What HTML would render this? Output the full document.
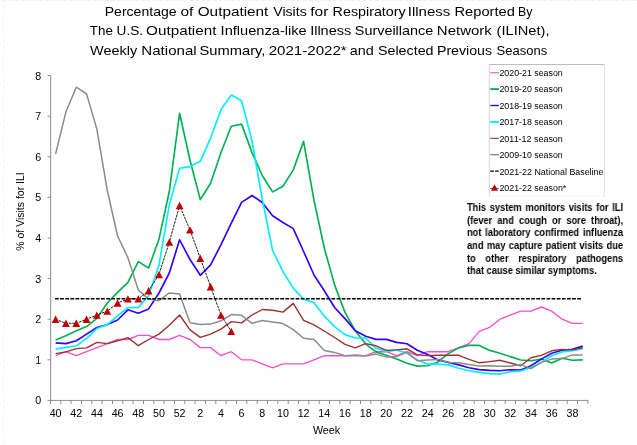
<!DOCTYPE html>
<html><head><meta charset="utf-8"><title>ILINet</title>
<style>
html,body{margin:0;padding:0;background:#fff;}
body{width:637px;height:445px;position:relative;overflow:hidden;font-family:"Liberation Sans",sans-serif;}
.nl{will-change:transform;position:absolute;left:466.6px;width:168.3px;height:12px;line-height:12px;font-size:10.0px;font-weight:bold;color:#000;white-space:nowrap;text-align:justify;text-align-last:justify;transform:scaleX(0.927);transform-origin:0 0;font-family:"Liberation Sans",sans-serif;}
.nl.last{text-align:left;text-align-last:left;}
</style></head><body>
<svg width="637" height="445" viewBox="0 0 637 445" style="position:absolute;left:0;top:0;will-change:transform">
<rect width="637" height="445" fill="#fff"/>
<line x1="3.5" y1="0" x2="3.5" y2="445" stroke="#f1f0f6" stroke-width="1" stroke-dasharray="3,2"/>
<line x1="3" y1="0.5" x2="637" y2="0.5" stroke="#f0f0f0" stroke-width="1" stroke-dasharray="4,2"/>
<g style="font-family:'Liberation Sans',sans-serif">
<text transform="translate(104.74,15.5) scale(1.0644,1)" font-size="13.2" fill="#000">Percentage</text>
<text transform="translate(180.51,15.5) scale(1.1714,1)" font-size="13.2" fill="#000">of</text>
<text transform="translate(197.72,15.5) scale(1.1602,1)" font-size="13.2" fill="#000">Outpatient</text>
<text transform="translate(273.2,15.5) scale(1.0732,1)" font-size="13.2" fill="#000">Visits</text>
<text transform="translate(310.31,15.5) scale(1.1733,1)" font-size="13.2" fill="#000">for</text>
<text transform="translate(332.62,15.5) scale(1.0838,1)" font-size="13.2" fill="#000">Respiratory</text>
<text transform="translate(407.78,15.5) scale(1.1385,1)" font-size="13.2" fill="#000">Illness</text>
<text transform="translate(454.49,15.5) scale(1.1124,1)" font-size="13.2" fill="#000">Reported</text>
<text transform="translate(518.11,15.5) scale(0.9368,1)" font-size="13.2" fill="#000">By</text>
<text transform="translate(89.85,35.2) scale(1.0136,1)" font-size="13.2" fill="#000">The</text>
<text transform="translate(116.62,35.2) scale(1.034,1)" font-size="13.2" fill="#000">U.S.</text>
<text transform="translate(146.12,35.2) scale(1.1552,1)" font-size="13.2" fill="#000">Outpatient</text>
<text transform="translate(220.62,35.2) scale(1.1079,1)" font-size="13.2" fill="#000">Influenza-like</text>
<text transform="translate(310.13,35.2) scale(1.0993,1)" font-size="13.2" fill="#000">Illness</text>
<text transform="translate(354.85,35.2) scale(1.0912,1)" font-size="13.2" fill="#000">Surveillance</text>
<text transform="translate(436.86,35.2) scale(1.1365,1)" font-size="13.2" fill="#000">Network</text>
<text transform="translate(496.57,35.2) scale(1.1104,1)" font-size="13.2" fill="#000">(ILINet),</text>
<text transform="translate(90.1,54.6) scale(1.0953,1)" font-size="13.2" fill="#000">Weekly</text>
<text transform="translate(141.36,54.6) scale(1.1419,1)" font-size="13.2" fill="#000">National</text>
<text transform="translate(199.54,54.6) scale(1.1148,1)" font-size="13.2" fill="#000">Summary,</text>
<text transform="translate(268.64,54.6) scale(1.145,1)" font-size="13.2" fill="#000">2021-2022*</text>
<text transform="translate(349.76,54.6) scale(1.0892,1)" font-size="13.2" fill="#000">and</text>
<text transform="translate(377.96,54.6) scale(1.082,1)" font-size="13.2" fill="#000">Selected</text>
<text transform="translate(436.93,54.6) scale(1.0734,1)" font-size="13.2" fill="#000">Previous</text>
<text transform="translate(496.51,54.6) scale(0.9881,1)" font-size="13.2" fill="#000">Seasons</text>
<line x1="50.7" y1="75.4" x2="50.7" y2="400.9" stroke="#8c8c94" stroke-width="1"/>
<line x1="50.2" y1="400.4" x2="588" y2="400.4" stroke="#8c8c94" stroke-width="1"/>
<line x1="47.5" y1="400.4" x2="50.7" y2="400.4" stroke="#8c8c94" stroke-width="1"/>
<text x="41.2" y="404.3" font-size="10.7" text-anchor="end" font-weight="normal" fill="#000" >0</text>
<line x1="47.5" y1="359.8" x2="50.7" y2="359.8" stroke="#8c8c94" stroke-width="1"/>
<text x="41.2" y="363.7" font-size="10.7" text-anchor="end" font-weight="normal" fill="#000" >1</text>
<line x1="47.5" y1="319.2" x2="50.7" y2="319.2" stroke="#8c8c94" stroke-width="1"/>
<text x="41.2" y="323.1" font-size="10.7" text-anchor="end" font-weight="normal" fill="#000" >2</text>
<line x1="47.5" y1="278.6" x2="50.7" y2="278.6" stroke="#8c8c94" stroke-width="1"/>
<text x="41.2" y="282.5" font-size="10.7" text-anchor="end" font-weight="normal" fill="#000" >3</text>
<line x1="47.5" y1="238.0" x2="50.7" y2="238.0" stroke="#8c8c94" stroke-width="1"/>
<text x="41.2" y="241.9" font-size="10.7" text-anchor="end" font-weight="normal" fill="#000" >4</text>
<line x1="47.5" y1="197.4" x2="50.7" y2="197.4" stroke="#8c8c94" stroke-width="1"/>
<text x="41.2" y="201.3" font-size="10.7" text-anchor="end" font-weight="normal" fill="#000" >5</text>
<line x1="47.5" y1="156.8" x2="50.7" y2="156.8" stroke="#8c8c94" stroke-width="1"/>
<text x="41.2" y="160.7" font-size="10.7" text-anchor="end" font-weight="normal" fill="#000" >6</text>
<line x1="47.5" y1="116.2" x2="50.7" y2="116.2" stroke="#8c8c94" stroke-width="1"/>
<text x="41.2" y="120.1" font-size="10.7" text-anchor="end" font-weight="normal" fill="#000" >7</text>
<line x1="47.5" y1="75.6" x2="50.7" y2="75.6" stroke="#8c8c94" stroke-width="1"/>
<text x="41.2" y="79.5" font-size="10.7" text-anchor="end" font-weight="normal" fill="#000" >8</text>
<line x1="50.5" y1="400.4" x2="50.5" y2="404" stroke="#8c8c94" stroke-width="1"/>
<line x1="60.8" y1="400.4" x2="60.8" y2="404" stroke="#8c8c94" stroke-width="1"/>
<line x1="71.1" y1="400.4" x2="71.1" y2="404" stroke="#8c8c94" stroke-width="1"/>
<line x1="81.5" y1="400.4" x2="81.5" y2="404" stroke="#8c8c94" stroke-width="1"/>
<line x1="91.8" y1="400.4" x2="91.8" y2="404" stroke="#8c8c94" stroke-width="1"/>
<line x1="102.1" y1="400.4" x2="102.1" y2="404" stroke="#8c8c94" stroke-width="1"/>
<line x1="112.5" y1="400.4" x2="112.5" y2="404" stroke="#8c8c94" stroke-width="1"/>
<line x1="122.8" y1="400.4" x2="122.8" y2="404" stroke="#8c8c94" stroke-width="1"/>
<line x1="133.1" y1="400.4" x2="133.1" y2="404" stroke="#8c8c94" stroke-width="1"/>
<line x1="143.5" y1="400.4" x2="143.5" y2="404" stroke="#8c8c94" stroke-width="1"/>
<line x1="153.8" y1="400.4" x2="153.8" y2="404" stroke="#8c8c94" stroke-width="1"/>
<line x1="164.1" y1="400.4" x2="164.1" y2="404" stroke="#8c8c94" stroke-width="1"/>
<line x1="174.5" y1="400.4" x2="174.5" y2="404" stroke="#8c8c94" stroke-width="1"/>
<line x1="184.8" y1="400.4" x2="184.8" y2="404" stroke="#8c8c94" stroke-width="1"/>
<line x1="195.1" y1="400.4" x2="195.1" y2="404" stroke="#8c8c94" stroke-width="1"/>
<line x1="205.5" y1="400.4" x2="205.5" y2="404" stroke="#8c8c94" stroke-width="1"/>
<line x1="215.8" y1="400.4" x2="215.8" y2="404" stroke="#8c8c94" stroke-width="1"/>
<line x1="226.1" y1="400.4" x2="226.1" y2="404" stroke="#8c8c94" stroke-width="1"/>
<line x1="236.5" y1="400.4" x2="236.5" y2="404" stroke="#8c8c94" stroke-width="1"/>
<line x1="246.8" y1="400.4" x2="246.8" y2="404" stroke="#8c8c94" stroke-width="1"/>
<line x1="257.2" y1="400.4" x2="257.2" y2="404" stroke="#8c8c94" stroke-width="1"/>
<line x1="267.5" y1="400.4" x2="267.5" y2="404" stroke="#8c8c94" stroke-width="1"/>
<line x1="277.8" y1="400.4" x2="277.8" y2="404" stroke="#8c8c94" stroke-width="1"/>
<line x1="288.2" y1="400.4" x2="288.2" y2="404" stroke="#8c8c94" stroke-width="1"/>
<line x1="298.5" y1="400.4" x2="298.5" y2="404" stroke="#8c8c94" stroke-width="1"/>
<line x1="308.8" y1="400.4" x2="308.8" y2="404" stroke="#8c8c94" stroke-width="1"/>
<line x1="319.2" y1="400.4" x2="319.2" y2="404" stroke="#8c8c94" stroke-width="1"/>
<line x1="329.5" y1="400.4" x2="329.5" y2="404" stroke="#8c8c94" stroke-width="1"/>
<line x1="339.8" y1="400.4" x2="339.8" y2="404" stroke="#8c8c94" stroke-width="1"/>
<line x1="350.2" y1="400.4" x2="350.2" y2="404" stroke="#8c8c94" stroke-width="1"/>
<line x1="360.5" y1="400.4" x2="360.5" y2="404" stroke="#8c8c94" stroke-width="1"/>
<line x1="370.8" y1="400.4" x2="370.8" y2="404" stroke="#8c8c94" stroke-width="1"/>
<line x1="381.2" y1="400.4" x2="381.2" y2="404" stroke="#8c8c94" stroke-width="1"/>
<line x1="391.5" y1="400.4" x2="391.5" y2="404" stroke="#8c8c94" stroke-width="1"/>
<line x1="401.8" y1="400.4" x2="401.8" y2="404" stroke="#8c8c94" stroke-width="1"/>
<line x1="412.2" y1="400.4" x2="412.2" y2="404" stroke="#8c8c94" stroke-width="1"/>
<line x1="422.5" y1="400.4" x2="422.5" y2="404" stroke="#8c8c94" stroke-width="1"/>
<line x1="432.8" y1="400.4" x2="432.8" y2="404" stroke="#8c8c94" stroke-width="1"/>
<line x1="443.2" y1="400.4" x2="443.2" y2="404" stroke="#8c8c94" stroke-width="1"/>
<line x1="453.5" y1="400.4" x2="453.5" y2="404" stroke="#8c8c94" stroke-width="1"/>
<line x1="463.9" y1="400.4" x2="463.9" y2="404" stroke="#8c8c94" stroke-width="1"/>
<line x1="474.2" y1="400.4" x2="474.2" y2="404" stroke="#8c8c94" stroke-width="1"/>
<line x1="484.5" y1="400.4" x2="484.5" y2="404" stroke="#8c8c94" stroke-width="1"/>
<line x1="494.9" y1="400.4" x2="494.9" y2="404" stroke="#8c8c94" stroke-width="1"/>
<line x1="505.2" y1="400.4" x2="505.2" y2="404" stroke="#8c8c94" stroke-width="1"/>
<line x1="515.5" y1="400.4" x2="515.5" y2="404" stroke="#8c8c94" stroke-width="1"/>
<line x1="525.9" y1="400.4" x2="525.9" y2="404" stroke="#8c8c94" stroke-width="1"/>
<line x1="536.2" y1="400.4" x2="536.2" y2="404" stroke="#8c8c94" stroke-width="1"/>
<line x1="546.5" y1="400.4" x2="546.5" y2="404" stroke="#8c8c94" stroke-width="1"/>
<line x1="556.9" y1="400.4" x2="556.9" y2="404" stroke="#8c8c94" stroke-width="1"/>
<line x1="567.2" y1="400.4" x2="567.2" y2="404" stroke="#8c8c94" stroke-width="1"/>
<line x1="577.5" y1="400.4" x2="577.5" y2="404" stroke="#8c8c94" stroke-width="1"/>
<line x1="587.9" y1="400.4" x2="587.9" y2="404" stroke="#8c8c94" stroke-width="1"/>
<text x="55.6" y="416.9" font-size="10.7" text-anchor="middle" font-weight="normal" fill="#000" >40</text>
<text x="76.3" y="416.9" font-size="10.7" text-anchor="middle" font-weight="normal" fill="#000" >42</text>
<text x="96.9" y="416.9" font-size="10.7" text-anchor="middle" font-weight="normal" fill="#000" >44</text>
<text x="117.6" y="416.9" font-size="10.7" text-anchor="middle" font-weight="normal" fill="#000" >46</text>
<text x="138.3" y="416.9" font-size="10.7" text-anchor="middle" font-weight="normal" fill="#000" >48</text>
<text x="159.0" y="416.9" font-size="10.7" text-anchor="middle" font-weight="normal" fill="#000" >50</text>
<text x="179.6" y="416.9" font-size="10.7" text-anchor="middle" font-weight="normal" fill="#000" >52</text>
<text x="200.3" y="416.9" font-size="10.7" text-anchor="middle" font-weight="normal" fill="#000" >2</text>
<text x="221.0" y="416.9" font-size="10.7" text-anchor="middle" font-weight="normal" fill="#000" >4</text>
<text x="241.6" y="416.9" font-size="10.7" text-anchor="middle" font-weight="normal" fill="#000" >6</text>
<text x="262.3" y="416.9" font-size="10.7" text-anchor="middle" font-weight="normal" fill="#000" >8</text>
<text x="283.0" y="416.9" font-size="10.7" text-anchor="middle" font-weight="normal" fill="#000" >10</text>
<text x="303.6" y="416.9" font-size="10.7" text-anchor="middle" font-weight="normal" fill="#000" >12</text>
<text x="324.3" y="416.9" font-size="10.7" text-anchor="middle" font-weight="normal" fill="#000" >14</text>
<text x="345.0" y="416.9" font-size="10.7" text-anchor="middle" font-weight="normal" fill="#000" >16</text>
<text x="365.7" y="416.9" font-size="10.7" text-anchor="middle" font-weight="normal" fill="#000" >18</text>
<text x="386.3" y="416.9" font-size="10.7" text-anchor="middle" font-weight="normal" fill="#000" >20</text>
<text x="407.0" y="416.9" font-size="10.7" text-anchor="middle" font-weight="normal" fill="#000" >22</text>
<text x="427.7" y="416.9" font-size="10.7" text-anchor="middle" font-weight="normal" fill="#000" >24</text>
<text x="448.3" y="416.9" font-size="10.7" text-anchor="middle" font-weight="normal" fill="#000" >26</text>
<text x="469.0" y="416.9" font-size="10.7" text-anchor="middle" font-weight="normal" fill="#000" >28</text>
<text x="489.7" y="416.9" font-size="10.7" text-anchor="middle" font-weight="normal" fill="#000" >30</text>
<text x="510.3" y="416.9" font-size="10.7" text-anchor="middle" font-weight="normal" fill="#000" >32</text>
<text x="531.0" y="416.9" font-size="10.7" text-anchor="middle" font-weight="normal" fill="#000" >34</text>
<text x="551.7" y="416.9" font-size="10.7" text-anchor="middle" font-weight="normal" fill="#000" >36</text>
<text x="572.4" y="416.9" font-size="10.7" text-anchor="middle" font-weight="normal" fill="#000" >38</text>
<text x="326.5" y="434" font-size="10.7" text-anchor="middle" font-weight="normal" fill="#000" >Week</text>
<text transform="translate(24.3,211.5) rotate(-90)" font-size="10.5" text-anchor="middle" fill="#000">% of Visits for ILI</text>
<polyline points="55.6,355.7 65.9,351.7 76.3,355.7 86.6,351.7 96.9,347.6 107.3,343.6 117.6,339.5 127.9,339.5 138.3,335.4 148.6,335.4 159.0,339.5 169.3,339.5 179.6,335.4 190.0,339.5 200.3,347.6 210.6,347.6 221.0,355.7 231.3,351.7 241.6,359.8 252.0,359.8 262.3,363.9 272.6,367.9 283.0,363.9 293.3,363.9 303.6,363.9 314.0,359.8 324.3,355.7 334.6,355.7 345.0,355.7 355.3,355.7 365.7,355.7 376.0,351.7 386.3,351.7 396.7,355.7 407.0,351.7 417.3,355.7 427.7,351.7 438.0,351.7 448.3,351.7 458.7,347.6 469.0,343.6 479.3,331.4 489.7,327.3 500.0,319.2 510.3,315.1 520.7,311.1 531.0,311.1 541.3,307.0 551.7,311.1 562.0,319.2 572.4,323.3 582.7,323.3" fill="none" stroke="#F850C8" stroke-width="1.35" stroke-linejoin="round" stroke-linecap="butt"/>
<polyline points="55.6,339.9 65.9,335.8 76.3,330.8 86.6,326.6 96.9,318.3 107.3,303.0 117.6,292.4 127.9,282.4 138.3,261.6 148.6,268.0 159.0,239.2 169.3,191.5 179.6,113.3 190.0,160.2 200.3,199.6 210.6,183.3 221.0,152.5 231.3,126.3 241.6,124.1 252.0,152.6 262.3,175.5 272.6,191.9 283.0,186.2 293.3,169.9 303.6,141.3 314.0,200.3 324.3,248.0 334.6,284.9 345.0,312.4 355.3,330.8 365.7,344.1 376.0,351.9 386.3,355.3 396.7,359.1 407.0,363.2 417.3,366.1 427.7,365.7 438.0,361.9 448.3,353.6 458.7,347.9 469.0,345.3 479.3,345.4 489.7,350.4 500.0,353.3 510.3,356.6 520.7,360.0 531.0,360.7 541.3,359.1 551.7,362.9 562.0,358.2 572.4,360.2 582.7,359.9" fill="none" stroke="#00B050" stroke-width="1.65" stroke-linejoin="round" stroke-linecap="butt"/>
<polyline points="55.6,342.9 65.9,343.6 76.3,340.8 86.6,334.1 96.9,327.5 107.3,324.6 117.6,320.0 127.9,309.8 138.3,313.2 148.6,308.9 159.0,293.0 169.3,273.0 179.6,239.8 190.0,259.5 200.3,275.3 210.6,264.9 221.0,244.6 231.3,223.2 241.6,202.4 252.0,195.5 262.3,202.5 272.6,215.8 283.0,222.5 293.3,228.6 303.6,251.5 314.0,275.0 324.3,290.8 334.6,307.5 345.0,318.6 355.3,330.8 365.7,336.3 376.0,339.4 386.3,339.4 396.7,342.4 407.0,343.8 417.3,350.3 427.7,354.6 438.0,359.9 448.3,362.4 458.7,364.9 469.0,367.7 479.3,369.6 489.7,370.4 500.0,370.7 510.3,369.7 520.7,370.0 531.0,365.7 541.3,359.1 551.7,353.3 562.0,350.3 572.4,349.4 582.7,346.1" fill="none" stroke="#3300FF" stroke-width="1.65" stroke-linejoin="round" stroke-linecap="butt"/>
<polyline points="55.6,349.1 65.9,347.4 76.3,345.8 86.6,338.3 96.9,328.6 107.3,324.6 117.6,315.8 127.9,307.6 138.3,307.4 148.6,295.7 159.0,265.0 169.3,204.9 179.6,168.3 190.0,166.6 200.3,161.3 210.6,138.2 221.0,109.6 231.3,95.0 241.6,100.8 252.0,141.0 262.3,199.0 272.6,250.4 283.0,271.6 293.3,288.3 303.6,299.1 314.0,302.7 324.3,316.0 334.6,326.6 345.0,334.6 355.3,338.0 365.7,338.0 376.0,348.3 386.3,351.6 396.7,349.9 407.0,353.3 417.3,359.9 427.7,364.1 438.0,364.1 448.3,364.9 458.7,368.2 469.0,370.7 479.3,372.4 489.7,373.6 500.0,374.1 510.3,371.7 520.7,371.0 531.0,367.4 541.3,362.4 551.7,355.7 562.0,351.9 572.4,350.8 582.7,348.8" fill="none" stroke="#00EEFF" stroke-width="1.65" stroke-linejoin="round" stroke-linecap="butt"/>
<polyline points="55.6,353.6 65.9,351.9 76.3,348.6 86.6,347.9 96.9,342.4 107.3,343.6 117.6,340.8 127.9,337.6 138.3,345.7 148.6,339.5 159.0,334.1 169.3,325.3 179.6,315.0 190.0,329.9 200.3,337.4 210.6,334.1 221.0,329.1 231.3,321.6 241.6,322.9 252.0,315.0 262.3,309.5 272.6,310.3 283.0,312.1 293.3,303.4 303.6,320.3 314.0,324.9 324.3,331.0 334.6,337.5 345.0,344.4 355.3,347.9 365.7,343.6 376.0,345.8 386.3,350.3 396.7,349.9 407.0,348.8 417.3,354.9 427.7,355.6 438.0,355.3 448.3,355.3 458.7,355.3 469.0,359.4 479.3,362.8 489.7,361.6 500.0,360.3 510.3,363.0 520.7,365.7 531.0,357.7 541.3,355.4 551.7,350.8 562.0,349.4 572.4,349.9 582.7,347.8" fill="none" stroke="#993333" stroke-width="1.4" stroke-linejoin="round" stroke-linecap="butt"/>
<polyline points="55.6,153.9 65.9,112.0 76.3,87.2 86.6,94.0 96.9,129.4 107.3,190.5 117.6,236.0 127.9,257.8 138.3,289.9 148.6,299.1 159.0,300.7 169.3,292.9 179.6,294.1 190.0,322.8 200.3,324.4 210.6,324.1 221.0,320.8 231.3,314.6 241.6,315.3 252.0,323.3 262.3,320.5 272.6,322.1 283.0,323.6 293.3,329.6 303.6,338.3 314.0,339.6 324.3,350.5 334.6,352.4 345.0,355.8 355.3,354.9 365.7,356.1 376.0,354.1 386.3,357.1 396.7,356.6 407.0,352.1 417.3,360.7 427.7,359.9 438.0,359.4 448.3,362.4 458.7,362.8 469.0,364.6 479.3,366.1 489.7,365.7 500.0,366.2 510.3,366.3 520.7,364.6 531.0,368.6 541.3,362.4 551.7,359.1 562.0,358.6 572.4,354.9 582.7,354.9" fill="none" stroke="#8C8C8C" stroke-width="1.5" stroke-linejoin="round" stroke-linecap="butt"/>
<line x1="55.0" y1="298.8" x2="581.05" y2="298.8" stroke="#000" stroke-width="1.5" stroke-dasharray="3.75,1.37"/>
<polyline points="55.6,319.2 65.9,323.3 76.3,323.3 86.6,319.2 96.9,315.1 107.3,311.1 117.6,303.0 127.9,298.9 138.3,298.9 148.6,290.8 159.0,274.5 169.3,242.1 179.6,205.5 190.0,229.9 200.3,258.3 210.6,286.7 221.0,315.1 231.3,331.4" fill="none" stroke="#000" stroke-width="0.9" stroke-dasharray="2.6,0.9"/>
<path d="M55.6,315.5 L59.5,322.9 L51.7,322.9 Z" fill="#C00000"/>
<path d="M65.9,319.6 L69.8,327.0 L62.0,327.0 Z" fill="#C00000"/>
<path d="M76.3,319.6 L80.2,327.0 L72.4,327.0 Z" fill="#C00000"/>
<path d="M86.6,315.5 L90.5,322.9 L82.7,322.9 Z" fill="#C00000"/>
<path d="M96.9,311.4 L100.8,318.8 L93.0,318.8 Z" fill="#C00000"/>
<path d="M107.3,307.4 L111.2,314.8 L103.4,314.8 Z" fill="#C00000"/>
<path d="M117.6,299.3 L121.5,306.7 L113.7,306.7 Z" fill="#C00000"/>
<path d="M127.9,295.2 L131.8,302.6 L124.0,302.6 Z" fill="#C00000"/>
<path d="M138.3,295.2 L142.2,302.6 L134.4,302.6 Z" fill="#C00000"/>
<path d="M148.6,287.1 L152.5,294.5 L144.7,294.5 Z" fill="#C00000"/>
<path d="M159.0,270.8 L162.9,278.2 L155.1,278.2 Z" fill="#C00000"/>
<path d="M169.3,238.4 L173.2,245.8 L165.4,245.8 Z" fill="#C00000"/>
<path d="M179.6,201.8 L183.5,209.2 L175.7,209.2 Z" fill="#C00000"/>
<path d="M190.0,226.2 L193.9,233.6 L186.1,233.6 Z" fill="#C00000"/>
<path d="M200.3,254.6 L204.2,262.0 L196.4,262.0 Z" fill="#C00000"/>
<path d="M210.6,283.0 L214.5,290.4 L206.7,290.4 Z" fill="#C00000"/>
<path d="M221.0,311.4 L224.9,318.8 L217.1,318.8 Z" fill="#C00000"/>
<path d="M231.3,327.7 L235.2,335.1 L227.4,335.1 Z" fill="#C00000"/>
<line x1="488.8" y1="64.5" x2="604.8" y2="64.5" stroke="#bdbdbd" stroke-width="1"/>
<line x1="489.3" y1="64" x2="489.3" y2="196.4" stroke="#d8d4dc" stroke-width="1"/>
<line x1="604.4" y1="64" x2="604.4" y2="196.4" stroke="#e4e0e8" stroke-width="1"/>
<line x1="488.8" y1="196.0" x2="604.8" y2="196.0" stroke="#f1ecf4" stroke-width="1" stroke-dasharray="3,1.5"/>
<line x1="490.3" y1="72.7" x2="498.9" y2="72.7" stroke="#F850C8" stroke-width="1.1"/>
<text x="499.4" y="75.9" font-size="8.85" text-anchor="start" font-weight="normal" fill="#000" textLength="63.4" lengthAdjust="spacingAndGlyphs" >2020-21 season</text>
<line x1="490.3" y1="89.1" x2="498.9" y2="89.1" stroke="#00B050" stroke-width="1.9"/>
<text x="499.4" y="92.3" font-size="8.85" text-anchor="start" font-weight="normal" fill="#000" textLength="63.4" lengthAdjust="spacingAndGlyphs" >2019-20 season</text>
<line x1="490.3" y1="105.5" x2="498.9" y2="105.5" stroke="#3300FF" stroke-width="1.4"/>
<text x="499.4" y="108.7" font-size="8.85" text-anchor="start" font-weight="normal" fill="#000" textLength="63.4" lengthAdjust="spacingAndGlyphs" >2018-19 season</text>
<line x1="490.3" y1="121.9" x2="498.9" y2="121.9" stroke="#00EEFF" stroke-width="2.0"/>
<text x="499.4" y="125.1" font-size="8.85" text-anchor="start" font-weight="normal" fill="#000" textLength="63.4" lengthAdjust="spacingAndGlyphs" >2017-18 season</text>
<line x1="490.3" y1="138.3" x2="498.9" y2="138.3" stroke="#993333" stroke-width="1.1"/>
<text x="499.4" y="141.5" font-size="8.85" text-anchor="start" font-weight="normal" fill="#000" textLength="63.4" lengthAdjust="spacingAndGlyphs" >2011-12 season</text>
<line x1="490.3" y1="154.7" x2="498.9" y2="154.7" stroke="#8C8C8C" stroke-width="1.4"/>
<text x="499.4" y="157.9" font-size="8.85" text-anchor="start" font-weight="normal" fill="#000" textLength="63.4" lengthAdjust="spacingAndGlyphs" >2009-10 season</text>
<line x1="490.3" y1="171.1" x2="498.9" y2="171.1" stroke="#000" stroke-width="1.05" stroke-dasharray="3.6,1.2"/>
<text x="499.4" y="174.8" font-size="8.85" text-anchor="start" font-weight="normal" fill="#000" textLength="104.0" lengthAdjust="spacingAndGlyphs" >2021-22 National Baseline</text>
<line x1="490.3" y1="188.5" x2="498.9" y2="188.5" stroke="#222" stroke-width="0.7"/>
<path d="M494.5,184.2 L498.0,190.8 L491.0,190.8 Z" fill="#C00000"/>
<text x="499.4" y="190.7" font-size="8.85" text-anchor="start" font-weight="normal" fill="#000" >2021-22 season*</text>
</g>
</svg>
<div class="nl" style="top:202.20px">This system monitors visits for ILI</div><div class="nl" style="top:214.83px">(fever and cough or sore throat),</div><div class="nl" style="top:227.46px">not laboratory confirmed influenza</div><div class="nl" style="top:240.09px">and may capture patient visits due</div><div class="nl" style="top:252.72px">to other respiratory pathogens</div><div class="nl last" style="top:265.35px">that cause similar symptoms.</div>
</body></html>
